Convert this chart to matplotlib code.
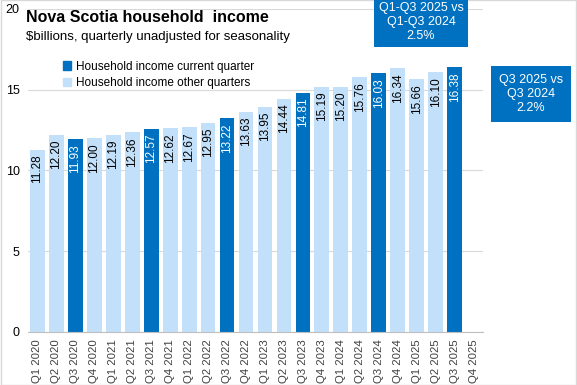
import numpy as np
import matplotlib.pyplot as plt
from matplotlib.patches import Patch

plt.rcParams["font.family"] = ["Liberation Sans", "DejaVu Sans"]

quarters = [f"Q{q} {y}" for y in range(2020, 2026) for q in range(1, 5)]
values = [11.28, 12.20, 11.93, 12.00, 12.19, 12.36, 12.57, 12.62, 12.67, 12.95,
          13.22, 13.63, 13.95, 14.44, 14.81, 15.19, 15.20, 15.76, 16.03, 16.34,
          15.66, 16.10, 16.38]
current = [q.startswith("Q3") for q in quarters[:len(values)]]

DARK = "#0070C0"
LIGHT = "#C3E0FA"

fig = plt.figure(figsize=(5.77, 3.85), dpi=100)
ax = fig.add_axes([28 / 577, 1 - 332 / 385, (483 - 28) / 577, (332 - 9) / 385])

x = np.arange(len(quarters))
cols = [DARK if c else LIGHT for c in current]
ax.bar(x[:len(values)], values, width=0.78, color=cols, zorder=2)

for xi, v, c in zip(x, values, current):
    ax.text(xi, v - 0.3, f"{v:.2f}", rotation=90, ha="center", va="top",
            fontsize=8.5, color="white" if c else "black", zorder=3)

ax.set_xlim(-0.5, len(quarters) - 0.5)
ax.set_ylim(0, 20)
ax.set_yticks([0, 5, 10, 15, 20])
ax.set_xticks(x)
ax.set_xticklabels(quarters, rotation=90, fontsize=8.2, color="#404040")
ax.tick_params(axis="y", length=0, labelsize=9, pad=6)
ax.tick_params(axis="x", length=0, pad=5)
ax.grid(axis="y", color="#D9D9D9", lw=0.8, zorder=0)
for s in ("top", "right", "left"):
    ax.spines[s].set_visible(False)
ax.spines["bottom"].set_color("#BFBFBF")

fig.text(26 / 577, 1 - 18 / 385, "Nova Scotia household  income", fontsize=11.5,
         fontweight="bold", va="center", ha="left")
fig.text(26 / 577, 1 - 37 / 385, "$billions, quarterly unadjusted for seasonality",
         fontsize=9.5, va="center", ha="left")

handles = [Patch(color=DARK, label="Household income current quarter"),
           Patch(color=LIGHT, label="Household income other quarters")]
fig.legend(handles=handles, loc="upper left", bbox_to_anchor=(52 / 577, 1 - 50 / 385),
           frameon=False, fontsize=8.5, handlelength=0.7, handleheight=0.7,
           handletextpad=0.4, labelspacing=0.4)

fig.text(421 / 577, 1 - 22 / 385, "Q1-Q3 2025 vs\nQ1-Q3 2024\n2.5%", color="white",
         fontsize=9, ha="center", va="center", linespacing=1.2,
         bbox=dict(boxstyle="square,pad=0.4", fc=DARK, ec="none"))
fig.text(531 / 577, 1 - 94 / 385, "Q3 2025 vs\nQ3 2024\n2.2%", color="white",
         fontsize=9, ha="center", va="center", linespacing=1.2,
         bbox=dict(boxstyle="square,pad=0.65", fc=DARK, ec="none"))

fig.patches.append(plt.Rectangle((0.001, 0.001), 0.998, 0.998, transform=fig.transFigure,
                                 fill=False, ec="#D9D9D9", lw=1))
fig.savefig("out.png", dpi=100)
